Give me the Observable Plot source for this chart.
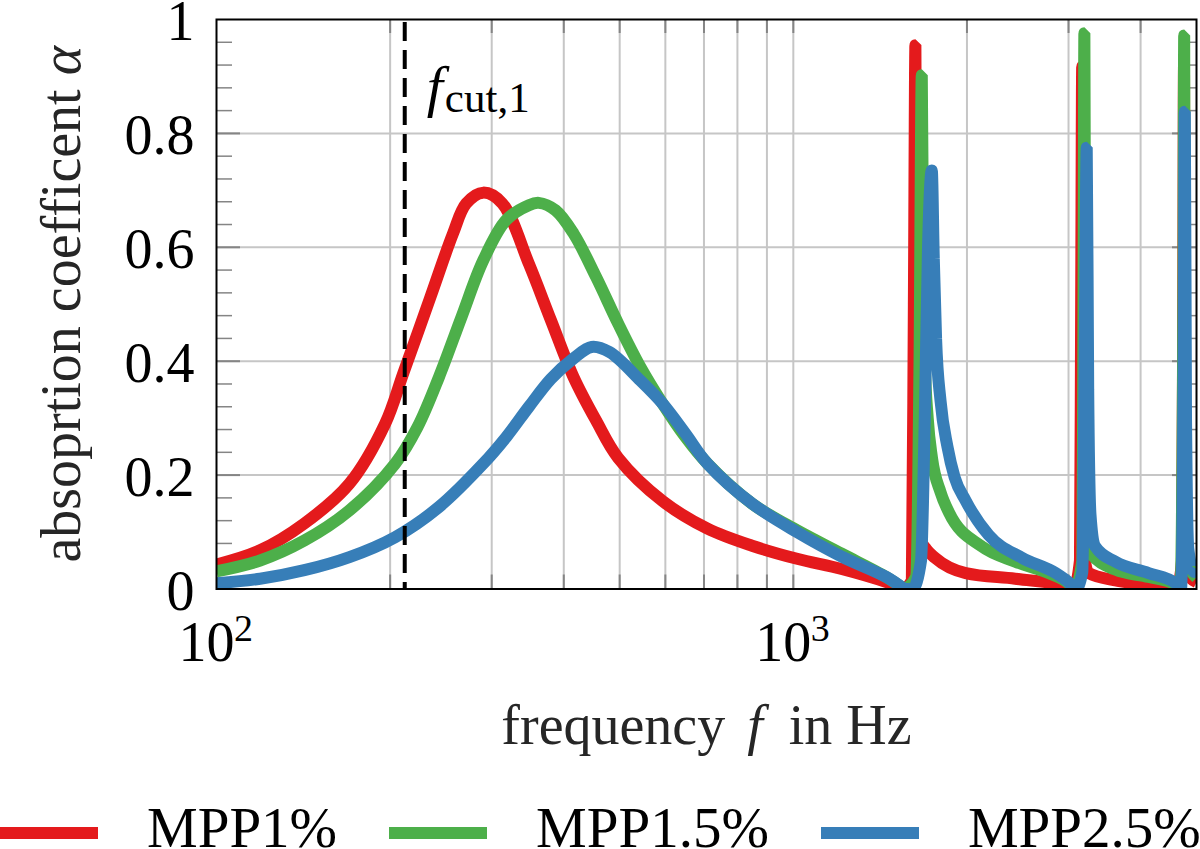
<!DOCTYPE html>
<html>
<head>
<meta charset="utf-8">
<script src="https://cdn.jsdelivr.net/npm/d3@7"></script>
<script src="https://cdn.jsdelivr.net/npm/@observablehq/plot@0.6"></script>
<style>
  html, body { margin: 0; padding: 0; background: #fff; overflow: hidden; }
  #wrap { position: relative; width: 1200px; height: 849px; overflow: hidden; font-family: "Liberation Serif", "Times New Roman", serif; }
  #legend { position: absolute; left: 0; top: 790px; width: 1200px; height: 76px; display: flex; align-items: center; }
  .sw { width: 98px; height: 12px; margin-right: 49px; position: relative; top: 5px; flex: none; }
  .lt { font-size: 57px; line-height: 1.2; margin-right: 52px; color: #000; white-space: nowrap; flex: none; }
</style>
</head>
<body>
<div id="wrap"><div id="chart"></div><div id="legend"></div></div>
<script>
// ---------- data ----------
const seriesNames = ["MPP1%", "MPP1.5%", "MPP2.5%"];
const seriesColors = ["#e41a1c", "#4daf4a", "#377eb8"];

// [frequency in Hz, absorption coefficient]
const mpp1 = [[100,0.043],[119,0.068],[142,0.115],[170,0.185],[196,0.29],[211,0.38],[235,0.513],[257,0.624],[271,0.677],[290,0.696],[313,0.677],[348,0.571],[380,0.472],[416,0.372],[455,0.296],[497,0.23],[594,0.154],[710,0.106],[848,0.076],[1015,0.053],[1213,0.035],[1450,0.012],[1557,0.0],[1605,0.015],[1618,0.5],[1628,0.955],[1634,0.5],[1640,0.13],[1660,0.088],[1700,0.07],[1760,0.055],[1990,0.028],[2425,0.018],[3000,0.005],[3060,0.0],[3140,0.05],[3155,0.5],[3168,0.917],[3178,0.4],[3192,0.06],[3250,0.028],[3616,0.015],[4480,0.004],[4620,0.0],[4720,0.05],[4742,0.5],[4757,0.92],[4770,0.3],[4795,0.03],[5000,0.012]];

const mpp15 = [[100,0.031],[119,0.05],[142,0.085],[170,0.138],[204,0.22],[223,0.284],[243,0.372],[266,0.478],[290,0.577],[318,0.648],[348,0.674],[362,0.678],[387,0.665],[416,0.624],[455,0.548],[497,0.466],[543,0.39],[594,0.325],[650,0.267],[710,0.22],[848,0.15],[1015,0.103],[1213,0.062],[1450,0.021],[1557,0.0],[1630,0.02],[1655,0.4],[1670,0.902],[1678,0.6],[1690,0.4],[1710,0.3],[1740,0.229],[1800,0.17],[1860,0.135],[2120,0.075],[2425,0.048],[2770,0.028],[3000,0.01],[3070,0.0],[3170,0.05],[3185,0.5],[3196,0.976],[3208,0.4],[3235,0.1],[3280,0.062],[3616,0.034],[4130,0.021],[4600,0.008],[4690,0.0],[4745,0.5],[4760,0.972],[4775,0.3],[4820,0.05],[5000,0.02]];

const mpp25 = [[100,0.01],[119,0.018],[142,0.033],[170,0.056],[204,0.091],[243,0.144],[290,0.22],[318,0.267],[348,0.32],[380,0.369],[416,0.405],[447,0.425],[480,0.416],[543,0.366],[594,0.325],[650,0.273],[710,0.22],[848,0.15],[1015,0.10],[1213,0.057],[1450,0.021],[1557,0.0],[1610,0.0],[1665,0.05],[1690,0.3],[1712,0.6],[1738,0.735],[1752,0.58],[1768,0.44],[1800,0.33],[1850,0.25],[1904,0.196],[1990,0.155],[2180,0.095],[2490,0.055],[2850,0.028],[3000,0.012],[3090,0.0],[3170,0.03],[3205,0.5],[3226,0.775],[3245,0.35],[3275,0.13],[3335,0.075],[3616,0.048],[4130,0.028],[4600,0.01],[4700,0.0],[4750,0.4],[4772,0.838],[4795,0.3],[4840,0.07],[4950,0.03],[5000,0.035]];

const series = [mpp1, mpp15, mpp25];
const humpEnd = 1557; // first minimum: broad hump below, resonance spikes above

const cutoffFreq = [212];
const cutoffLabel = ["f", "cut,1"];

const xDomain = [100, 5000];
const yDomain = [0, 1];
const xTickValues = [100, 1000];
const xGridValues = [200, 300, 400, 500, 600, 700, 800, 900, 1000, 2000, 3000, 4000];
const yTickValues = [0, 0.2, 0.4, 0.6, 0.8, 1];
const yGridValues = [0.2, 0.4, 0.6, 0.8];
const yMinorValues = [0.04,0.08,0.12,0.16,0.24,0.28,0.32,0.36,0.44,0.48,0.52,0.56,0.64,0.68,0.72,0.76,0.84,0.88,0.92,0.96];

const xLabelParts = ["frequency ", "f", " in Hz"];
const yLabelParts = ["absoprtion coefficent ", "α"];

// ---------- layout ----------
const W = 1200, H = 790, mL = 216, mR = 4, mT = 19, mB = 201.5;
const fw = W - mL - mR, fh = H - mT - mB;
const gridColor = "#c6c6c6", tickColor = "#858585";
const FONT = "'Liberation Serif','Times New Roman',serif";
const LW = 12;

const lineMarks = series.flatMap((s, i) => [
  Plot.line(s.filter(d => d[0] <= humpEnd), {x: d => d[0], y: d => d[1], stroke: seriesColors[i], strokeWidth: LW,
    curve: "catmull-rom", strokeLinejoin: "round", strokeLinecap: "butt", clip: true}),
  Plot.line(s.filter(d => d[0] >= humpEnd), {x: d => d[0], y: d => d[1], stroke: seriesColors[i], strokeWidth: LW,
    curve: "monotone-x", strokeLinejoin: "bevel", strokeLinecap: "butt", clip: true})
]);

const plot = Plot.plot({
  width: W, height: H,
  marginLeft: mL, marginRight: mR, marginTop: mT, marginBottom: mB,
  style: {fontFamily: FONT, background: "white", color: "black", overflow: "visible"},
  x: {type: "log", domain: xDomain, axis: null},
  y: {domain: yDomain, axis: null},
  marks: [
    Plot.ruleX(xGridValues, {x: d => d, stroke: gridColor, strokeWidth: 2}),
    Plot.ruleY(yGridValues, {y: d => d, stroke: gridColor, strokeWidth: 2}),
    // inward ticks
    Plot.tickX(xGridValues, {x: d => d, insetTop: fh - 14, stroke: tickColor, strokeWidth: 2}),
    Plot.tickX(xGridValues, {x: d => d, insetBottom: fh - 14, stroke: tickColor, strokeWidth: 2}),
    Plot.tickY(yMinorValues, {y: d => d, insetRight: fw - 16, stroke: tickColor, strokeWidth: 1.5}),
    Plot.tickY(yMinorValues, {y: d => d, insetLeft: fw - 8, stroke: tickColor, strokeWidth: 1.5}),
    Plot.tickY(yGridValues, {y: d => d, insetRight: fw - 24, stroke: tickColor, strokeWidth: 2}),
    Plot.tickY(yGridValues, {y: d => d, insetLeft: fw - 24, stroke: tickColor, strokeWidth: 2}),
    ...lineMarks,
    Plot.ruleX(cutoffFreq, {x: d => d, stroke: "black", strokeWidth: 4, strokeDasharray: "19,9", strokeDashoffset: 25}),
    Plot.frame({stroke: "black", strokeWidth: 2}),
    // y tick labels
    Plot.text(yTickValues, {y: d => d, frameAnchor: "left", text: d => String(d), textAnchor: "end",
      dx: -22, dy: 3, fontSize: 56, fill: "black"}),
    // x tick labels (mantissa + exponent)
    Plot.text(xTickValues, {x: d => d, frameAnchor: "bottom", text: () => "10", lineAnchor: "bottom",
      textAnchor: "middle", dx: -10, dy: 71.5, fontSize: 56, fill: "black"}),
    Plot.text(xTickValues, {x: d => d, frameAnchor: "bottom", text: d => String(Math.round(Math.log10(d))),
      lineAnchor: "bottom", textAnchor: "middle", dx: 27, dy: 51.5, fontSize: 38, fill: "black"}),
    // axis labels
    Plot.text([xLabelParts.join("")], {frameAnchor: "bottom", text: d => d, lineAnchor: "bottom",
      textAnchor: "middle", dy: 154.5, fontSize: 56, fill: "#262626"}),
    Plot.text([yLabelParts.join("")], {frameAnchor: "left", text: d => d, lineAnchor: "bottom",
      textAnchor: "middle", rotate: -90, dx: -137, fontSize: 56, fill: "#262626"}),
    // cutoff label
    Plot.text(cutoffFreq, {x: d => d, frameAnchor: "top", text: () => cutoffLabel.join(""), lineAnchor: "bottom",
      textAnchor: "start", dx: 22, dy: 86.4, fontSize: 56, fill: "black"})
  ]
});

document.getElementById("chart").appendChild(plot);

function rich(content, parts) {
  d3.select(plot).selectAll("text")
    .filter(function () { return this.textContent === content; })
    .each(function () {
      const t = d3.select(this);
      t.text(null);
      for (const p of parts) {
        const s = t.append("tspan").text(p.t);
        if (p.i) s.attr("font-style", "italic");
        if (p.fs) s.attr("font-size", p.fs);
        if (p.dx != null) s.attr("dx", p.dx);
        if (p.dy != null) s.attr("dy", p.dy);
      }
    });
}
rich(xLabelParts.join(""), [{t: xLabelParts[0]}, {t: xLabelParts[1], i: true, dx: 8}, {t: xLabelParts[2], dx: 12}]);
rich(yLabelParts.join(""), [{t: yLabelParts[0]}, {t: yLabelParts[1], i: true}]);
rich(cutoffLabel.join(""), [{t: cutoffLabel[0], i: true, fs: 58}, {t: cutoffLabel[1], fs: 43, dy: 6.5, dx: 2}]);

// ---------- legend ----------
const legend = d3.select("#legend");
seriesNames.forEach((name, i) => {
  legend.append("div").attr("class", "sw").style("background", seriesColors[i]);
  legend.append("div").attr("class", "lt").text(name);
});
</script>
</body>
</html>
